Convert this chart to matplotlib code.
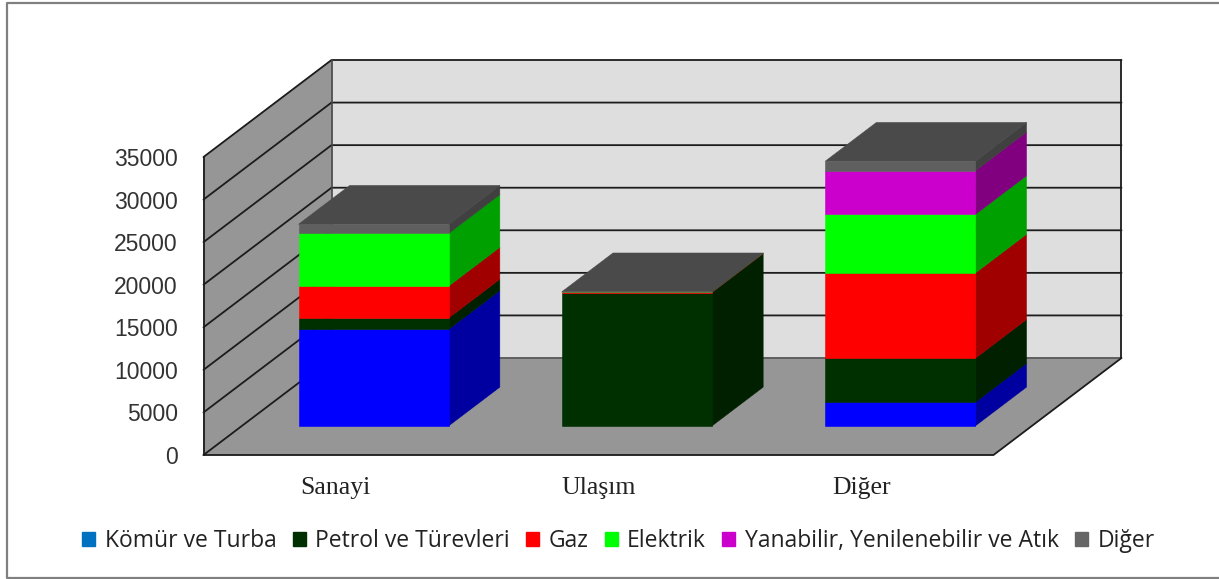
import matplotlib
matplotlib.use("Agg")
import matplotlib.pyplot as plt
from matplotlib.lines import Line2D
from matplotlib.patches import Patch

categories = ["Sanayi", "Ulaşım", "Diğer"]
series_names = ["Kömür ve Turba", "Petrol ve Türevleri", "Gaz", "Elektrik",
                "Yanabilir, Yenilenebilir ve Atık", "Diğer"]
komur = [11340, 0, 2780]
petrol = [1330, 15660, 5160]
gaz = [3750, 60, 10010]
elektrik = [6180, 20, 6880]
yanabilir = [0, 0, 5120]
diger = [1080, 10, 1130]
yticks = [0, 5000, 10000, 15000, 20000, 25000, 30000, 35000]

series = [komur, petrol, gaz, elektrik, yanabilir, diger]
front_colors = ["#0000ff", "#003000", "#ff0000", "#00ff00", "#cc00cc", "#5f5f5f"]
side_colors = ["#0000a0", "#002000", "#a00000", "#00a000", "#800080", "#404040"]
legend_colors = ["#0070c0", "#003000", "#ff0000", "#00ff00", "#cc00cc", "#666666"]
top_color = "#4a4a4a"

W, H = 1219, 579
fig = plt.figure(figsize=(W / 100, H / 100), dpi=100)
# outer frame, cut off on the right side of the image
fig.add_artist(Line2D([W / W, 6.5 / W, 6.5 / W, W / W],
                      [(H - 2.5) / H, (H - 2.5) / H, (H - 577.5) / H, (H - 577.5) / H],
                      color="#808080", linewidth=1.6))

# front plane of the fake 3d box
AX_W = 790
ax = fig.add_axes([203.5 / W, (H - 455) / H, AX_W / W, 298 / H])
ax.set_xlim(0, 3)
ax.set_ylim(0, 35000)
ax.patch.set_visible(False)
for s in ax.spines.values():
    s.set_visible(False)

DX = 128 / (AX_W / 3)
DY = 97 * 35000 / 298


def pt(x, y, z):
    # oblique projection, z=0 front and z=1 back
    return x + z * DX, y + z * DY


def face(points, color, z=1, lw=0.4, ec=None):
    xs = [p[0] for p in points]
    ys = [p[1] for p in points]
    ax.fill(xs, ys, facecolor=color, edgecolor=ec or color, linewidth=lw, clip_on=False, zorder=z)


# walls
face([pt(0, 0, 0), pt(0, 35000, 0), pt(0, 35000, 1), pt(0, 0, 1)], "#969696")
face([pt(0, 0, 0), pt(3, 0, 0), pt(3, 0, 1), pt(0, 0, 1)], "#969696")
face([pt(0, 0, 1), pt(3, 0, 1), pt(3, 35000, 1), pt(0, 35000, 1)], "#dedede")

line = dict(color="#1c1c1c", linewidth=1.3, clip_on=False, zorder=2, solid_capstyle="round")
for t in yticks:
    xa, ya = pt(0, t, 0)
    xb, yb = pt(0, t, 1)
    xc, yc = pt(3, t, 1)
    if t == 0:
        ax.plot([xa, xb], [ya, yb], **line)
        ax.plot([xb, xc], [yb, yc], color="#555555", linewidth=1.3, clip_on=False, zorder=2)
    else:
        ax.plot([xa, xb, xc], [ya, yb, yc], **line)
ax.plot(*zip(pt(0, 0, 0), pt(0, 35000, 0)), **line)
ax.plot(*zip(pt(0, 0, 1), pt(0, 35000, 1)), color="#444444", linewidth=1.2, clip_on=False, zorder=2)
ax.plot(*zip(pt(3, 0, 1), pt(3, 35000, 1)), **line)
ax.plot(*zip(pt(0, 0, 0), pt(3, 0, 0), pt(3, 0, 1)), **line)

# stacked bars
bar_w = 0.57
z0, z1 = 0.3, 0.7
for i in range(len(categories)):
    x0 = i + 0.5 - bar_w / 2
    x1 = i + 0.5 + bar_w / 2
    bottom = 0
    for vals, fc, sc in zip(series, front_colors, side_colors):
        v = vals[i]
        if v == 0:
            continue
        top = bottom + v
        face([pt(x1, bottom, z0), pt(x1, top, z0), pt(x1, top, z1), pt(x1, bottom, z1)], sc, z=3)
        face([pt(x0, bottom, z0), pt(x1, bottom, z0), pt(x1, top, z0), pt(x0, top, z0)], fc, z=4)
        bottom = top
    face([pt(x0, bottom, z0), pt(x1, bottom, z0), pt(x1, bottom, z1), pt(x0, bottom, z1)], top_color, z=3)

ax.set_yticks(yticks)
ax.set_yticklabels([str(t) for t in yticks], fontfamily="Liberation Sans", fontsize=16.5, color="#333333")
ax.set_xticks([0.5, 1.5, 2.5])
ax.set_xticklabels(categories, fontfamily="Liberation Serif", fontsize=18.5, color="#222222")
ax.tick_params(axis="y", length=0, pad=18.5)
ax.tick_params(axis="x", length=0, pad=15.7)

handles = [Patch(facecolor=c, edgecolor=c) for c in legend_colors]
fig.legend(handles, series_names, ncol=6, loc="center", bbox_to_anchor=(618.5 / W, (H - 541) / H),
           frameon=False, prop={"family": "Open Sans", "size": 16.5}, labelcolor="#222222",
           handlelength=0.57, handleheight=0.57, handletextpad=0.4, columnspacing=0.72,
           borderpad=0, borderaxespad=0)

fig.savefig("out.png", dpi=100, facecolor="white")
